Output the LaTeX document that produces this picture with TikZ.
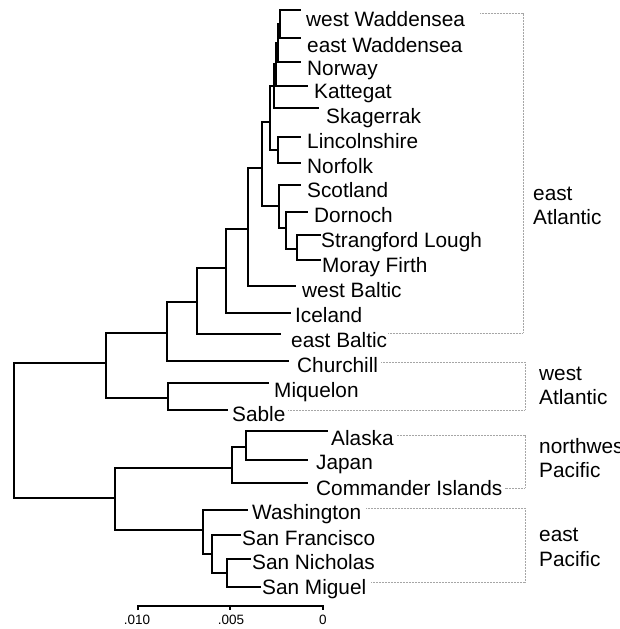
\documentclass[tikz,border=0pt]{standalone}
\usepackage{fontspec}
\setmainfont{Liberation Sans}
\usetikzlibrary{calc}
\begin{document}
\begin{tikzpicture}[x=1pt,y=-1pt,
  br/.style={line width=1.3pt, line cap=rect},
  leaf/.style={anchor=base west, inner sep=0pt, font=\fontsize{20.8}{24}\selectfont},
  grp/.style={anchor=base west, inner sep=0pt, font=\fontsize{20.8}{24}\selectfont},
  grpline/.style={draw=gray!70, line width=0.9pt, dash pattern=on 0.9pt off 0.6pt},
  axline/.style={line width=1.1pt},
  axlab/.style={anchor=base, inner sep=0pt, font=\fontsize{13.5}{16}\selectfont}]
\useasboundingbox (0,0) rectangle (619,629);

% leaf tips
\coordinate (t1) at (300,10);
\coordinate (t2) at (300,38);
\coordinate (t3) at (300,62);
\coordinate (t4) at (307,86);
\coordinate (t5) at (318,108);
\coordinate (t6) at (300,137);
\coordinate (t7) at (300,163);
\coordinate (t8) at (300,185);
\coordinate (t9) at (307,212);
\coordinate (t10) at (320,235);
\coordinate (t11) at (320,260);
\coordinate (t12) at (295,286);
\coordinate (t13) at (290,313);
\coordinate (t14) at (280,334);
\coordinate (t15) at (288,361);
\coordinate (t16) at (268,383);
\coordinate (t17) at (227,410);
\coordinate (t18) at (327,431);
\coordinate (t19) at (307,460);
\coordinate (t20) at (307,483);
\coordinate (t21) at (247,510);
\coordinate (t22) at (240,535);
\coordinate (t23) at (250,559);
\coordinate (t24) at (260,587);

% internal nodes
\coordinate (n1) at (280,24);
\coordinate (n2) at (278,43);
\coordinate (n3) at (276,64);
\coordinate (n4) at (274,86);
\coordinate (n6) at (278,150);
\coordinate (n5) at (270,122);
\coordinate (n10) at (297,249);
\coordinate (n9) at (286,228);
\coordinate (n8) at (279,206);
\coordinate (n7) at (262,168);
\coordinate (n11) at (248,229);
\coordinate (n12) at (226,268);
\coordinate (n13) at (197,302);
\coordinate (n14) at (167,333);
\coordinate (n16) at (168,398);
\coordinate (n15) at (106,363);
\coordinate (n18) at (246,447);
\coordinate (n17) at (232,468);
\coordinate (n21) at (227,573);
\coordinate (n20) at (212,554);
\coordinate (n19) at (203,530);
\coordinate (n22) at (115,498);
\coordinate (root) at (14,430);

% branches
\draw[br] (n1) |- (t1) (n1) |- (t2);
\draw[br] (n2) |- (n1) (n2) |- (t3);
\draw[br] (n3) |- (n2) (n3) |- (t4);
\draw[br] (n4) |- (n3) (n4) |- (t5);
\draw[br] (n6) |- (t6) (n6) |- (t7);
\draw[br] (n5) |- (n4) (n5) |- (n6);
\draw[br] (n10) |- (t10) (n10) |- (t11);
\draw[br] (n9) |- (t9) (n9) |- (n10);
\draw[br] (n8) |- (t8) (n8) |- (n9);
\draw[br] (n7) |- (n5) (n7) |- (n8);
\draw[br] (n11) |- (n7) (n11) |- (t12);
\draw[br] (n12) |- (n11) (n12) |- (t13);
\draw[br] (n13) |- (n12) (n13) |- (t14);
\draw[br] (n14) |- (n13) (n14) |- (t15);
\draw[br] (n16) |- (t16) (n16) |- (t17);
\draw[br] (n15) |- (n14) (n15) |- (n16);
\draw[br] (n18) |- (t18) (n18) |- (t19);
\draw[br] (n17) |- (n18) (n17) |- (t20);
\draw[br] (n21) |- (t23) (n21) |- (t24);
\draw[br] (n20) |- (t22) (n20) |- (n21);
\draw[br] (n19) |- (t21) (n19) |- (n20);
\draw[br] (n22) |- (n17) (n22) |- (n19);
\draw[br] (root) |- (n15) (root) |- (n22);

% leaf labels
\node[leaf] (L1) at (306,27) {west Waddensea};
\node[leaf] (L2) at (307,52) {east Waddensea};
\node[leaf] (L3) at (307,75) {Norway};
\node[leaf] (L4) at (314,98) {Kattegat};
\node[leaf] (L5) at (326,123) {Skagerrak};
\node[leaf] (L6) at (307,148) {Lincolnshire};
\node[leaf] (L7) at (307,173) {Norfolk};
\node[leaf] (L8) at (307,197) {Scotland};
\node[leaf] (L9) at (314,222) {Dornoch};
\node[leaf] (L10) at (321,247) {Strangford Lough};
\node[leaf] (L11) at (322,272) {Moray Firth};
\node[leaf] (L12) at (302,297) {west Baltic};
\node[leaf] (L13) at (295,322) {Iceland};
\node[leaf] (L14) at (291,347) {east Baltic};
\node[leaf] (L15) at (297,372) {Churchill};
\node[leaf] (L16) at (274,397) {Miquelon};
\node[leaf] (L17) at (232,421) {Sable};
\node[leaf] (L18) at (331,445) {Alaska};
\node[leaf] (L19) at (316,469) {Japan};
\node[leaf] (L20) at (316,495) {Commander Islands};
\node[leaf] (L21) at (252,519) {Washington};
\node[leaf] (L22) at (242,545) {San Francisco};
\node[leaf] (L23) at (252,569) {San Nicholas};
\node[leaf] (L24) at (262,594) {San Miguel};

% group brackets
\coordinate (ea1) at (523,13);
\coordinate (ea2) at (523,333);
\coordinate (wa1) at (525,362);
\coordinate (wa2) at (525,410);
\coordinate (np1) at (525,435);
\coordinate (np2) at (525,488);
\coordinate (ep1) at (525,508);
\coordinate (ep2) at (525,582);
\draw[grpline] ($(L1.east |- ea1)+(15,0)$) -- (ea1) -- (ea2) -- ($(L14.east |- ea2)+(1,0)$);
\draw[grpline] ($(L15.east |- wa1)+(3,0)$) -- (wa1) -- (wa2) -- ($(L17.east |- wa2)+(2,0)$);
\draw[grpline] ($(L18.east |- np1)+(3,0)$) -- (np1) -- (np2) -- ($(L20.east |- np2)+(2,0)$);
\draw[grpline] ($(L21.east |- ep1)+(5,0)$) -- (ep1) -- (ep2) -- ($(L24.east |- ep2)+(5,0)$);

% group labels
\node[grp] (ga1) at (533,200) {east};
\node[grp] (ga2) at (533,224) {Atlantic};
\node[grp] (gb1) at (539,380) {west};
\node[grp] (gb2) at (539,404) {Atlantic};
\node[grp] (gc1) at (539,453) {northwest};
\node[grp] (gc2) at (539,477) {Pacific};
\node[grp] (gd1) at (539,541) {east};
\node[grp] (gd2) at (539,566) {Pacific};

% axis
\coordinate (a1) at (138,606);
\coordinate (a2) at (230,606);
\coordinate (a3) at (323,606);
\draw[axline] ($(a1)+(0,4)$) -- (a1) -- (a3) -- ($(a3)+(0,4)$);
\draw[axline] (a2) -- ($(a2)+(0,4)$);
\node[axlab] (x1) at (137,624) {.010};
\node[axlab] (x2) at (231,624) {.005};
\node[axlab] (x3) at (323,624) {0};
\end{tikzpicture}
\end{document}
